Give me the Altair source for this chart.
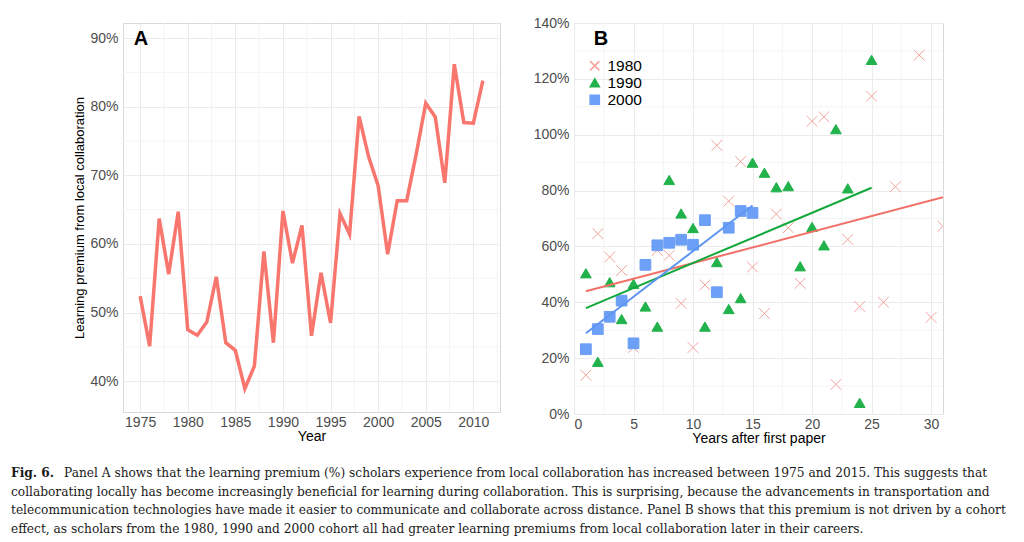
import altair as alt
import pandas as pd

# ---------------- Panel A data ----------------
years = list(range(1975, 2012))
premium = [52.4, 45.1, 63.7, 55.6, 64.7, 47.5, 46.7, 48.6, 55.2, 45.6,
           44.5, 38.9, 42.2, 58.9, 45.6, 64.8, 57.2, 62.7, 46.6, 55.8,
           48.5, 64.4, 61.4, 78.6, 72.7, 68.5, 58.5, 66.3, 66.3, 73.1,
           80.5, 78.5, 68.9, 86.2, 77.7, 77.6, 83.8]
a_x_ticks = [1975, 1980, 1985, 1990, 1995, 2000, 2005, 2010]
a_y_ticks = [40, 50, 60, 70, 80, 90]
a_minor_x = [1977.5, 1982.5, 1987.5, 1992.5, 1997.5, 2002.5, 2007.5, 2012.5]
a_minor_y = [45, 55, 65, 75, 85]

# ---------------- Panel B data ----------------
cohorts = ["1980", "1990", "2000"]
x1980 = [1, 2, 3, 4, 5, 7, 8, 9, 10, 11, 12, 13, 14, 15, 16, 17, 18, 19, 20,
         21, 22, 23, 24, 25, 26, 27, 29, 30, 31]
y1980 = [13.9, 64.6, 56.2, 51.4, 23.8, 58.6, 56.8, 39.6, 23.8, 46.2, 96.2,
         76.2, 90.4, 52.6, 36.0, 71.6, 66.7, 46.8, 104.8, 106.4, 10.6, 62.5,
         38.5, 113.8, 40.0, 81.4, 128.5, 34.6, 67.2]
x1990 = list(range(1, 26))
y1990 = [50.4, 18.7, 47.2, 34.0, 46.6, 38.5, 31.3, 83.8, 71.8, 66.6, 31.3,
         54.4, 37.6, 41.5, 90.0, 86.4, 81.2, 81.6, 52.9, 67.0, 60.4, 102.0,
         80.8, 4.0, 126.8]
x2000 = list(range(1, 16))
y2000 = [23.2, 30.4, 34.8, 40.6, 25.3, 53.4, 60.4, 61.3, 62.4, 60.6, 69.4,
         43.6, 66.7, 72.7, 72.0]
b_x_ticks = [0, 5, 10, 15, 20, 25, 30]
b_y_ticks = [0, 20, 40, 60, 80, 100, 120, 140]
b_minor_x = [2.5, 7.5, 12.5, 17.5, 22.5, 27.5]
b_minor_y = [10, 30, 50, 70, 90, 110, 130]

caption_bold = "Fig. 6."
caption_lines = [
    "Panel A shows that the learning premium (%) scholars experience from local collaboration has increased between 1975 and 2015. This suggests that",
    "collaborating locally has become increasingly beneficial for learning during collaboration. This is surprising, because the advancements in transportation and",
    "telecommunication technologies have made it easier to communicate and collaborate across distance. Panel B shows that this premium is not driven by a cohort",
    "effect, as scholars from the 1980, 1990 and 2000 cohort all had greater learning premiums from local collaboration later in their careers.",
]

RED = "#F8766D"
MINOR = "#f4f4f4"
pct = "datum.value + '%'"

# ---------------- Panel A ----------------
dfA = pd.DataFrame({"year": years, "premium": premium})
xa = alt.Scale(domain=[1973.2, 2012.8], nice=False, zero=False)
ya = alt.Scale(domain=[35.5, 92.2], nice=False, zero=False)

a_vgrid = alt.Chart(pd.DataFrame({"g": a_minor_x})).mark_rule(
    color=MINOR, strokeWidth=1).encode(x=alt.X("g:Q", scale=xa))
a_hgrid = alt.Chart(pd.DataFrame({"g": a_minor_y})).mark_rule(
    color=MINOR, strokeWidth=1).encode(y=alt.Y("g:Q", scale=ya))
a_line = alt.Chart(dfA).mark_line(color=RED, strokeWidth=3.5).encode(
    x=alt.X("year:Q", scale=xa,
            axis=alt.Axis(values=a_x_ticks, format="d", title="Year",
                          labelPadding=3, titlePadding=0)),
    y=alt.Y("premium:Q", scale=ya,
            axis=alt.Axis(values=a_y_ticks, labelExpr=pct,
                          title="Learning premium from local collaboration",
                          titleFontSize=13, titlePadding=3, labelPadding=5)),
)
a_lab = alt.Chart(pd.DataFrame({"t": ["A"]})).mark_text(
    font="Liberation Sans", fontSize=20, fontWeight="bold", color="black",
    align="center", baseline="middle").encode(
    text="t:N", x=alt.value(18), y=alt.value(16))
panelA = alt.layer(a_vgrid, a_hgrid, a_line, a_lab).properties(width=377, height=389)

# ---------------- Panel B ----------------
dfB = pd.DataFrame({
    "years": x1980 + x1990 + x2000,
    "premium": y1980 + y1990 + y2000,
    "cohort": ["1980"] * len(x1980) + ["1990"] * len(x1990) + ["2000"] * len(x2000),
})
xb = alt.Scale(domain=[0, 31], nice=False, zero=False)
yb = alt.Scale(domain=[0, 140], nice=False)

b_vgrid = alt.Chart(pd.DataFrame({"g": b_minor_x})).mark_rule(
    color=MINOR, strokeWidth=1).encode(x=alt.X("g:Q", scale=xb))
b_hgrid = alt.Chart(pd.DataFrame({"g": b_minor_y})).mark_rule(
    color=MINOR, strokeWidth=1).encode(y=alt.Y("g:Q", scale=yb))

leg = alt.Legend(title=None, orient="none", legendX=578, legendY=35,
                 labelFontSize=15.5, labelColor="black", labelFont="Liberation Sans",
                 rowPadding=-2, padding=0, labelOffset=5, symbolSize=85)
xpath = "M-1,-1L1,1M-1,1L1,-1"
b_pts = alt.Chart(dfB).mark_point(strokeWidth=1, clip=True, opacity=1, size=115).encode(
    x=alt.X("years:Q", scale=xb,
            axis=alt.Axis(values=b_x_ticks, title="Years after first paper",
                          labelPadding=3, titlePadding=0)),
    y=alt.Y("premium:Q", scale=yb,
            axis=alt.Axis(values=b_y_ticks, labelExpr=pct, title=None, labelPadding=5)),
    stroke=alt.Stroke("cohort:N", scale=alt.Scale(domain=cohorts,
                      range=["#F4A39C", "#22B24C", "#6C9FF6"]), legend=leg),
    fill=alt.Fill("cohort:N", scale=alt.Scale(domain=cohorts,
                  range=["transparent", "#22B24C", "#6C9FF6"]), legend=leg),
    shape=alt.Shape("cohort:N", scale=alt.Scale(domain=cohorts,
                    range=[xpath, "triangle-up", "square"]), legend=leg),
)
b_fit = alt.Chart(dfB).transform_regression(
    "years", "premium", groupby=["cohort"]).mark_line(strokeWidth=2, clip=True).encode(
    x=alt.X("years:Q", scale=xb),
    y=alt.Y("premium:Q", scale=yb),
    color=alt.Color("cohort:N", scale=alt.Scale(domain=cohorts,
                    range=["#F07167", "#14A83C", "#5E96F2"]), legend=None),
)
b_lab = alt.Chart(pd.DataFrame({"t": ["B"]})).mark_text(
    font="Liberation Sans", fontSize=20, fontWeight="bold", color="black",
    align="center", baseline="middle").encode(
    text="t:N", x=alt.value(27), y=alt.value(16))
panelB = alt.layer(b_vgrid, b_hgrid, b_pts, b_fit, b_lab).properties(width=369, height=391)

# ---------------- spacer + caption ----------------
spacer = alt.Chart(pd.DataFrame({"v": [0]})).mark_rect(opacity=0).encode(
    x=alt.value(0), x2=alt.value(1), y=alt.value(0), y2=alt.value(1)).properties(
    width=40, height=1, view=alt.ViewBackground(stroke="transparent"))

CAP_FONT = "DejaVu Serif"
CAP_SIZE = 12.2
cap_layers = [
    alt.Chart(pd.DataFrame({"t": [caption_bold]})).mark_text(
        font=CAP_FONT, fontSize=CAP_SIZE, fontWeight="bold", color="#1a1a1a",
        align="left", baseline="middle").encode(text="t:N", x=alt.value(2), y=alt.value(20))
]
for i, line in enumerate(caption_lines):
    cap_layers.append(
        alt.Chart(pd.DataFrame({"t": [line]})).mark_text(
            font=CAP_FONT, fontSize=CAP_SIZE, color="#1a1a1a",
            align="left", baseline="middle").encode(
            text="t:N", x=alt.value(55 if i == 0 else 2), y=alt.value(20 + 18.5 * i))
    )
caption = alt.layer(*cap_layers).properties(
    width=1000, height=80, view=alt.ViewBackground(stroke="transparent"))

top = alt.hconcat(spacer, panelA, panelB, spacing=74, bounds="flush")

chart = alt.vconcat(top, caption, spacing=6).properties(
    padding={"left": 0, "top": 7, "right": 0, "bottom": 0}
).configure_view(stroke="#d9d9d9").configure_axis(
    labelFont="Liberation Sans", titleFont="Liberation Sans",
    labelFontSize=14, titleFontSize=14, titleFontWeight="normal",
    labelColor="#4d4d4d", titleColor="black", gridColor="#ebebeb",
    ticks=False, domain=False,
)

chart.save("out.html", embed_options={"renderer": "svg", "actions": False})
